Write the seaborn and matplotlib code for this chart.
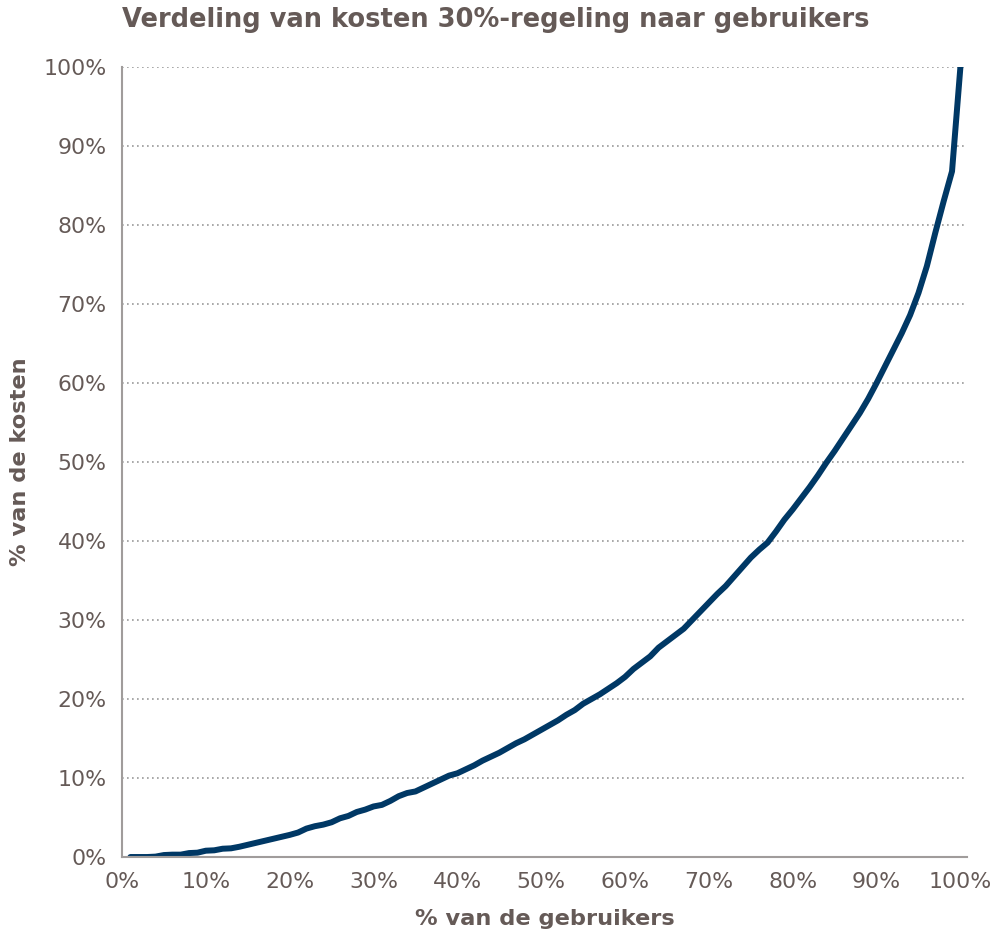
import pandas as pd
import seaborn as sns
import matplotlib.pyplot as plt
from matplotlib.ticker import PercentFormatter

# % van de gebruikers (1..100) en cumulatief % van de kosten
gebruikers = list(range(1, 101))
kosten = [
    0.0, 0.0, 0.0, 0.05, 0.25, 0.3, 0.3, 0.5, 0.55, 0.8,
    0.85, 1.05, 1.1, 1.3, 1.55, 1.8, 2.05, 2.3, 2.55, 2.8,
    3.1, 3.6, 3.9, 4.1, 4.4, 4.9, 5.2, 5.7, 6.0, 6.4,
    6.6, 7.1, 7.7, 8.1, 8.3, 8.8, 9.3, 9.8, 10.3, 10.6,
    11.1, 11.6, 12.2, 12.7, 13.2, 13.8, 14.4, 14.9, 15.5, 16.1,
    16.7, 17.3, 18.0, 18.6, 19.4, 20.0, 20.6, 21.3, 22.0, 22.8,
    23.8, 24.6, 25.4, 26.5, 27.3, 28.1, 28.9, 30.0, 31.1, 32.2,
    33.3, 34.3, 35.5, 36.7, 37.9, 38.9, 39.8, 41.2, 42.7, 44.0,
    45.4, 46.8, 48.3, 49.9, 51.4, 53.0, 54.6, 56.2, 58.0, 60.0,
    62.1, 64.2, 66.3, 68.6, 71.4, 74.8, 79.0, 83.0, 86.8, 100.0,
]

df = pd.DataFrame({"gebruikers": gebruikers, "kosten": kosten})

sns.set_style("white")
plt.rcParams["font.family"] = ["DejaVu Sans"]
txt = "#655a57"
grey = "#a09c9b"

fig = plt.figure(figsize=(9.96, 9.35), dpi=100)
ax = fig.add_axes([0.1225, 0.0834, 0.8485, 0.8449])

sns.lineplot(data=df, x="gebruikers", y="kosten", ax=ax, color="#003865", linewidth=4.3)

ax.set_xlim(0, 100.8)
ax.set_ylim(0, 100)
ax.set_xticks(range(0, 101, 10))
ax.set_yticks(range(0, 101, 10))
ax.xaxis.set_major_formatter(PercentFormatter(decimals=0))
ax.yaxis.set_major_formatter(PercentFormatter(decimals=0))

ax.yaxis.grid(True, linestyle=(0, (1, 2)), color="#999999", linewidth=1.2)
ax.xaxis.grid(False)
sns.despine(ax=ax)
for s in ["left", "bottom"]:
    ax.spines[s].set_color(grey)
    ax.spines[s].set_linewidth(1.5)
ax.tick_params(axis="both", direction="out", length=6, width=1.5, color=grey,
               labelsize=15.8, labelcolor=txt, pad=5)
for lab in ax.get_xticklabels() + ax.get_yticklabels():
    lab.set_fontweight("normal")

ax.set_xlabel("% van de gebruikers", fontsize=16.2, fontweight="bold", color=txt, labelpad=12)
ax.set_ylabel("% van de kosten", fontsize=16.2, fontweight="bold", color=txt, labelpad=10)
fig.suptitle("Verdeling van kosten 30%-regeling naar gebruikers", x=0.4975, y=0.993,
             fontsize=18.5, fontweight="bold", color=txt)

fig.savefig("out.png", dpi=100)
